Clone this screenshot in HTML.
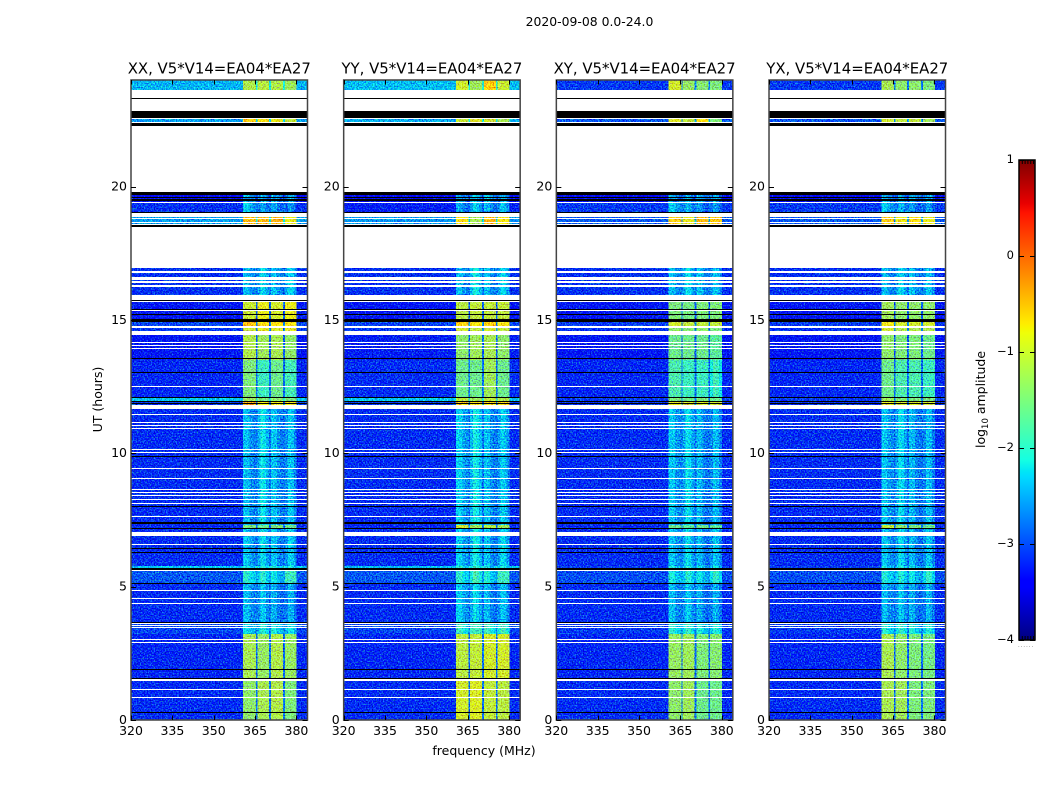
<!DOCTYPE html>
<html lang="en">
<head>
<meta charset="utf-8">
<title>2020-09-08 0.0-24.0</title>
<style>
html,body{margin:0;padding:0;background:#fff;width:1050px;height:800px;overflow:hidden}
svg{display:block}
text{font-family:"DejaVu Sans","Liberation Sans",sans-serif;fill:#000}
</style>
</head>
<body>
<svg id="chart" xmlns="http://www.w3.org/2000/svg" width="1050" height="800" viewBox="0 0 1050 800">
  <defs>
    <filter id="grain" filterUnits="userSpaceOnUse" x="0" y="0" width="1050" height="800" color-interpolation-filters="sRGB">
      <feTurbulence type="fractalNoise" baseFrequency="0.72" numOctaves="1" seed="7" result="t"/>
      <feColorMatrix in="t" type="matrix" values="0.4 0 0 0 0.3  1.7 0 0 0 -0.39  0 1.3 0 0 -0.15  0 0 0 0 1" result="n"/>
      <feComposite in="n" in2="SourceAlpha" operator="in" result="m"/>
      <feComposite in="SourceGraphic" in2="m" operator="arithmetic" k1="0" k2="1" k3="1" k4="-0.5"/>
    </filter>
    <linearGradient id="jet-gradient" x1="0" y1="1" x2="0" y2="0"></linearGradient>
  </defs>
  <rect x="0" y="0" width="1050" height="800" fill="#fff"/>
  <text x="589.5" y="26" font-size="12.4" text-anchor="middle">2020-09-08 0.0-24.0</text>
  <text x="484" y="755" font-size="12.5" text-anchor="middle">frequency (MHz)</text>
  <text x="102" y="399.5" font-size="12.5" text-anchor="middle" transform="rotate(-90 102 399.5)">UT (hours)</text>
  <text x="985" y="399.5" font-size="12.5" text-anchor="middle" transform="rotate(-90 985 399.5)">log<tspan font-size="8.5" dy="3">10</tspan><tspan dy="-3"> amplitude</tspan></text>
  <g id="panels"></g>
  <g id="colorbar"></g>
</svg>
<script>
// ---- Chart data (UT hours, MHz, log10 amplitude) ----
const panelNames = ['XX', 'YY', 'XY', 'YX'];
const baselineLabel = 'V5*V14=EA04*EA27';
const freqTicks = [320, 335, 350, 365, 380];
const hourTicks = [0, 5, 10, 15, 20];
const colorTicks = [-4, -3, -2, -1, 0, 1];
const subBandStartsMHz = [360.7, 365.8, 370.8, 375.8];
const subBandEndsMHz = [365.3, 370.1, 375.2, 380.1];

// Scan edges in UT hours, top to bottom (one more than the number of scans)
const scanEdgeHours = [24, 23.62, 22.31, 19.8, 19.39, 19.01, 18.53, 16.95, 15.71, 14.96, 14.78, 14.44, 13.5, 12.11, 11.93, 11.81, 7.31, 7.16, 5.78, 5.66, 5.14, 3.68, 3.23, 1.58, 0];

// Off-band background level per scan
const xxBackground = [-2.45, -2.55, null, -3.35, -3.1, -2.55, null, -3.1, -3.25, -3.0, -3.05, -3.25, -3.15, -2.35, -3.05, -3.12, -3.15, -3.12, -2.35, -2.9, -3.12, -3.0, -3.15, -3.12];
const yyBackground = [-2.4, -2.5, null, -3.35, -3.2, -2.6, null, -3.1, -3.25, -3.0, -3.05, -3.2, -3.12, -2.35, -3.05, -3.12, -3.15, -3.12, -2.4, -2.9, -3.12, -3.0, -3.15, -3.12];
const xyBackground = [-3.05, -2.9, null, -3.35, -3.05, -2.9, null, -3.1, -3.25, -3.05, -3.1, -3.25, -3.15, -3.05, -3.1, -3.12, -3.15, -3.12, -3.05, -2.95, -3.12, -3.05, -3.15, -3.12];
const yxBackground = [-3.05, -2.9, null, -3.35, -3.05, -2.9, null, -3.1, -3.25, -3.05, -3.1, -3.25, -3.15, -3.05, -3.1, -3.12, -3.15, -3.12, -3.05, -2.95, -3.12, -3.05, -3.15, -3.12];

// In-band level per scan, one value per sub-band
const xxSubBands = [[-1.2,-1.15,-1.2,-1.3],[-0.6,-0.75,-0.85,-1.1],null,[-2.5,-2.6,-2.6,-2.6],[-2.4,-2.65,-2.65,-2.75],[-0.45,-0.5,-0.45,-0.85],null,[-2.5,-2.4,-2.5,-2.4],[-1.05,-0.85,-1.0,-0.85],[-0.55,-0.7,-0.7,-0.75],[-1.05,-0.9,-0.95,-0.9],[-1.2,-1.3,-1.25,-1.4],[-1.5,-1.9,-1.6,-1.85],[-1.3,-1.5,-1.4,-1.5],[-0.45,-0.8,-0.8,-0.75],[-2.5,-2.35,-2.5,-2.5],[-1.5,-1.6,-1.5,-1.6],[-2.45,-2.4,-2.5,-2.45],[-2.2,-2.2,-2.2,-2.2],[-2.1,-2.15,-2.3,-1.9],[-2.5,-2.5,-2.6,-2.6],[-2.3,-2.2,-2.2,-2.3],[-1.25,-1.35,-1.2,-1.35],[-1.4,-1.25,-1.2,-1.5]];
const yySubBands = [[-1.0,-1.3,-0.6,-1.05],[-1.05,-0.9,-1.0,-1.25],null,[-2.6,-2.5,-2.5,-2.6],[-2.6,-2.45,-2.55,-2.5],[-0.7,-1.25,-0.5,-0.75],null,[-2.5,-2.3,-2.5,-2.4],[-1.15,-1.1,-1.1,-1.1],[-0.6,-0.75,-0.6,-0.75],[-1.0,-1.1,-1.0,-1.1],[-1.4,-1.3,-1.25,-1.4],[-1.6,-1.6,-1.3,-1.6],[-1.1,-1.3,-1.1,-1.2],[-0.6,-0.7,-0.65,-0.7],[-2.4,-2.3,-2.5,-2.45],[-1.0,-1.3,-1.2,-1.3],[-2.4,-2.3,-2.5,-2.4],[-2.1,-2.1,-2.2,-2.2],[-2.1,-2.0,-2.2,-1.9],[-2.4,-2.4,-2.55,-2.5],[-2.0,-1.9,-2.0,-2.0],[-1.15,-1.1,-1.0,-1.0],[-1.0,-0.95,-1.1,-1.15]];
const xySubBands = [[-1.0,-1.35,-1.45,-1.5],[-0.9,-1.1,-0.7,-1.5],null,[-2.6,-2.6,-2.6,-2.6],[-2.4,-2.6,-2.7,-2.7],[-0.6,-0.85,-0.5,-0.55],null,[-2.5,-2.4,-2.5,-2.5],[-1.5,-1.55,-1.5,-1.5],[-1.0,-1.1,-1.1,-1.1],[-1.4,-1.45,-1.4,-1.5],[-1.6,-1.6,-1.6,-1.7],[-1.8,-1.9,-1.9,-2.0],[-1.5,-1.6,-1.5,-1.6],[-0.85,-0.95,-0.95,-1.0],[-2.45,-2.4,-2.55,-2.55],[-1.6,-1.7,-1.6,-1.7],[-2.45,-2.4,-2.55,-2.5],[-2.2,-2.2,-2.3,-2.3],[-2.2,-2.2,-2.3,-2.1],[-2.5,-2.5,-2.6,-2.6],[-2.1,-2.1,-2.2,-2.2],[-1.35,-1.3,-1.5,-1.45],[-1.4,-1.3,-1.6,-1.6]];
const yxSubBands = [[-1.25,-1.4,-1.4,-1.5],[-1.0,-1.1,-1.1,-1.3],null,[-2.6,-2.6,-2.6,-2.6],[-2.4,-2.6,-2.7,-2.7],[-0.6,-0.8,-0.7,-0.85],null,[-2.5,-2.4,-2.5,-2.5],[-1.3,-1.4,-1.4,-1.4],[-0.8,-1.0,-1.0,-1.0],[-1.0,-1.2,-1.2,-1.2],[-1.4,-1.5,-1.5,-1.6],[-1.6,-1.8,-1.8,-1.9],[-1.3,-1.5,-1.5,-1.5],[-0.85,-0.95,-0.95,-1.0],[-2.45,-2.4,-2.55,-2.55],[-1.1,-1.4,-1.5,-1.6],[-2.45,-2.4,-2.55,-2.5],[-2.2,-2.2,-2.3,-2.3],[-2.15,-2.2,-2.3,-2.1],[-2.5,-2.5,-2.6,-2.6],[-2.1,-2.1,-2.2,-2.2],[-1.25,-1.4,-1.5,-1.55],[-1.25,-1.3,-1.5,-1.5]];

// Offset across the four channels of each sub-band, seen in the weak scans
const subBandRipple = [[0.12,0.1,-0.12,-0.2],[-0.12,0.22,0.12,-0.12],[0.16,0.1,-0.12,-0.22],[-0.12,0.18,0.1,-0.16]];

// Flagged (blank) and zero-amplitude (black) time spans [later hour, earlier hour]
const blankSpans = [[23.62,23.33],[23.30,22.84],[22.56,22.52],[22.41,22.39],[22.29,19.80],[19.43,19.39],[19.01,18.87],[18.83,18.79],[18.66,18.64],[18.60,18.55],[18.50,16.95],[16.84,16.78],[16.63,16.50],[16.48,16.37],[16.33,16.24],[15.92,15.75],[15.71,15.68],[15.39,15.34],[14.76,14.70],[14.59,14.44],[14.16,14.13],[14.06,14.01],[13.95,13.91],[12.53,12.49],[11.81,11.66],[11.49,11.46],[11.18,11.14],[11.06,11.03],[10.96,10.92],[10.15,10.11],[10.06,10.02],[9.45,9.41],[9.06,9.03],[8.66,8.63],[8.55,8.51],[8.44,8.40],[8.29,8.25],[8.14,8.10],[7.64,7.60],[7.06,6.90],[6.59,6.55],[5.64,5.59],[4.88,4.84],[4.58,4.54],[4.39,4.35],[3.65,3.62],[3.57,3.54],[3.50,3.46],[3.05,3.00],[2.94,2.90],[1.55,1.46],[1.16,1.13],[0.86,0.83]];
const zeroSpans = [[23.33,23.30],[22.84,22.58],[22.39,22.29],[19.79,19.68],[19.62,19.58],[19.52,19.48],[19.04,19.01],[18.55,18.50],[15.75,15.71],[15.42,15.39],[15.24,15.19],[15.02,14.94],[13.56,13.54],[13.04,13.00],[12.11,12.09],[11.96,11.93],[11.89,11.85],[9.90,9.86],[8.03,7.99],[7.41,7.36],[7.20,7.16],[6.44,6.40],[6.30,6.26],[5.71,5.64],[5.15,5.10],[3.68,3.65],[1.91,1.88],[1.58,1.55],[0.30,0.26]];

// Colormap control positions for the colorbar gradient
const jetPositions = [0, 0.11, 0.125, 0.34, 0.35, 0.375, 0.64, 0.65, 0.66, 0.89, 0.91, 1];

const backgroundsByPanel = [xxBackground, yyBackground, xyBackground, yxBackground];
const subBandsByPanel = [xxSubBands, yySubBands, xySubBands, yxSubBands];

const NS = 'http://www.w3.org/2000/svg';
const FREQ_MIN = 320, FREQ_MAX = 384, HOUR_MAX = 24;
const LEVEL_MIN = -4, LEVEL_MAX = 1;
const AXES_TOP = 80, AXES_HEIGHT = 640, AXES_WIDTH = 176.5, AXES_FIRST = 131, AXES_STEP = 212.67;
const CB_LEFT = 1019, CB_WIDTH = 16, CB_TOP = 160, CB_HEIGHT = 480;
const CHANNELS_PER_SUBBAND = 4, WEAK_BAND_LIMIT = -1.9;

function axesLeft(i) { return AXES_FIRST + AXES_STEP * i; }
function xScale(i, mhz) { return axesLeft(i) + (mhz - FREQ_MIN) / (FREQ_MAX - FREQ_MIN) * AXES_WIDTH; }
function yScale(hour) { return AXES_TOP + (HOUR_MAX - hour) / HOUR_MAX * AXES_HEIGHT; }
function colorbarY(level) { return CB_TOP + (LEVEL_MAX - level) / (LEVEL_MAX - LEVEL_MIN) * CB_HEIGHT; }

function ramp(t, pts) {
  if (t <= pts[0][0]) return pts[0][1];
  for (let i = 1; i < pts.length; i++) {
    if (t <= pts[i][0]) {
      const f = (t - pts[i - 1][0]) / (pts[i][0] - pts[i - 1][0]);
      return pts[i - 1][1] + f * (pts[i][1] - pts[i - 1][1]);
    }
  }
  return pts[pts.length - 1][1];
}
function jet(t) {
  const r = ramp(t, [[0, 0], [0.35, 0], [0.66, 1], [0.89, 1], [1, 0.5]]);
  const g = ramp(t, [[0, 0], [0.125, 0], [0.375, 1], [0.64, 1], [0.91, 0], [1, 0]]);
  const b = ramp(t, [[0, 0.5], [0.11, 1], [0.34, 1], [0.65, 0], [1, 0]]);
  return 'rgb(' + Math.round(r * 255) + ',' + Math.round(g * 255) + ',' + Math.round(b * 255) + ')';
}
function levelColor(level) { return jet((level - LEVEL_MIN) / (LEVEL_MAX - LEVEL_MIN)); }

function make(tag, attrs, parent) {
  const el = document.createElementNS(NS, tag);
  for (const k in attrs) el.setAttribute(k, attrs[k]);
  parent.appendChild(el);
  return el;
}

function drawCell(parent, i, f0, f1, h0, h1, level) {
  const x0 = xScale(i, f0), x1 = xScale(i, f1), y0 = yScale(h0), y1 = yScale(h1);
  const cell = make('rect', { x: x0, y: y0, width: x1 - x0, height: y1 - y0, fill: levelColor(level), 'shape-rendering': 'crispEdges' }, parent);
  
  
}

function drawSpan(parent, i, span, color, name) {
  const y0 = Math.round(yScale(span[0])), y1 = Math.round(yScale(span[1]));
  const bar = make('rect', { x: axesLeft(i), y: y0, width: AXES_WIDTH, height: Math.max(1, y1 - y0), fill: color, 'shape-rendering': 'crispEdges' }, parent);
  
  
}

function drawLine(parent, x1, y1, x2, y2, name) {
  const line = make('line', { x1: x1, y1: y1, x2: x2, y2: y2, stroke: '#000', 'stroke-width': 1 }, parent);
  
  
}

function drawLabel(parent, x, y, str, size, anchor, name) {
  const label = make('text', { x: x, y: y, 'font-size': size, 'text-anchor': anchor }, parent);
  label.textContent = str;
  
  
}

const panelsRoot = document.getElementById('panels');

panelNames.forEach(function (panel, i) {
  const left = axesLeft(i), right = left + AXES_WIDTH, bottom = AXES_TOP + AXES_HEIGHT;
  const g = make('g', {}, panelsRoot);
  
  

  const heat = make('g', { filter: 'url(#grain)' }, g);
  
  

  const bg = backgroundsByPanel[i], bands = subBandsByPanel[i];
  bg.forEach(function (level, r) {
    if (level === null) return;
    const h0 = scanEdgeHours[r], h1 = scanEdgeHours[r + 1];
    drawCell(heat, i, FREQ_MIN, FREQ_MAX, h0, h1, level);
    bands[r].forEach(function (bandLevel, s) {
      const fStart = subBandStartsMHz[s], fEnd = subBandEndsMHz[s];
      if (bandLevel < WEAK_BAND_LIMIT) {
        const step = (fEnd - fStart) / CHANNELS_PER_SUBBAND;
        subBandRipple[s].forEach(function (offset, c) {
          drawCell(heat, i, fStart + c * step, fStart + (c + 1) * step, h0, h1, bandLevel + offset);
        });
      } else {
        drawCell(heat, i, fStart, fEnd, h0, h1, bandLevel);
      }
      if (s < 3) drawCell(heat, i, fEnd, subBandStartsMHz[s + 1], h0, h1, level + 0.35);
    });
  });

  blankSpans.forEach(function (span) { drawSpan(g, i, span, '#fff', 'flagged-span'); });
  zeroSpans.forEach(function (span) { drawSpan(g, i, span, '#000', 'zero-amplitude-span'); });

  const frame = make('rect', { x: left, y: AXES_TOP, width: AXES_WIDTH, height: AXES_HEIGHT, fill: 'none', stroke: '#444', 'stroke-width': 1.5 }, g);
  
  

  freqTicks.forEach(function (f) {
    const x = Math.round(xScale(i, f)) + 0.5;
    drawLine(g, x, bottom, x, bottom - 4.5, 'x-tick');
    drawLine(g, x, AXES_TOP, x, AXES_TOP + 4.5, 'x-tick');
    drawLabel(g, xScale(i, f), 735, String(f), 12.5, 'middle', 'x-tick-label');
  });
  hourTicks.forEach(function (h) {
    const y = Math.round(yScale(h)) + 0.5;
    drawLine(g, left, y, left + 5, y, 'y-tick');
    drawLine(g, right, y, right - 5, y, 'y-tick');
    drawLabel(g, left - 4, yScale(h) + 3.8, String(h), 12.5, 'end', 'y-tick-label');
  });

  drawLabel(g, left + AXES_WIDTH / 2, 73.5, panel + ', ' + baselineLabel, 14.9, 'middle', 'panel-title');
});

// Colorbar
const gradient = document.getElementById('jet-gradient');
jetPositions.forEach(function (t) {
  make('stop', { offset: t, 'stop-color': jet(t) }, gradient);
});
const cbRoot = document.getElementById('colorbar');
const cbFill = make('rect', { x: CB_LEFT, y: CB_TOP, width: CB_WIDTH, height: CB_HEIGHT, fill: 'url(#jet-gradient)', stroke: '#000', 'stroke-width': 1.5 }, cbRoot);


colorTicks.forEach(function (v) {
  const y = Math.round(colorbarY(v)) + 0.5;
  drawLine(cbRoot, CB_LEFT, y, CB_LEFT + 5, y, 'colorbar-tick');
  drawLine(cbRoot, CB_LEFT + CB_WIDTH, y, CB_LEFT + CB_WIDTH - 5, y, 'colorbar-tick');
  drawLabel(cbRoot, CB_LEFT - 5, colorbarY(v) + 3, String(v).replace('-', '\u2212'), 11.5, 'end', 'colorbar-tick-label');
});
[1, 2, 3, 4, 5].forEach(function (n) {
  const x = CB_LEFT + n * 2.8 + 0.5;
  drawLine(cbRoot, x, CB_TOP, x, CB_TOP + 4, 'colorbar-minor-tick');
  drawLine(cbRoot, x, CB_TOP + CB_HEIGHT, x, CB_TOP + CB_HEIGHT - 4, 'colorbar-minor-tick');
});
const cbDots = make('text', { x: 1026, y: 647, 'font-size': 6, 'text-anchor': 'middle', style: 'fill:#777;letter-spacing:0.8px' }, cbRoot);
cbDots.textContent = '......';


</script>
</body>
</html>
